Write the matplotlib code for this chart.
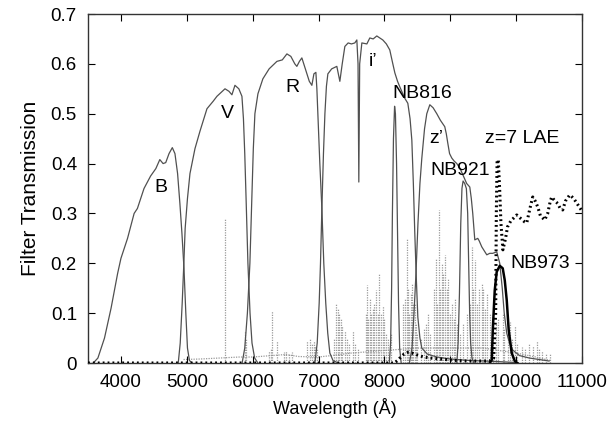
import matplotlib
matplotlib.use("Agg")
import matplotlib.pyplot as plt

plt.rcParams['font.family'] = ['Liberation Sans', 'DejaVu Sans']

# ---------------- data ----------------
B_wave = [3580, 3650, 3750, 3850, 3950, 4000, 4100, 4200, 4250, 4350, 4450, 4530, 4590, 4640,
          4680, 4730, 4780, 4820, 4860, 4895, 4926, 4957, 4985, 5010, 5040, 5080]
B_trans = [0, 0.01, 0.05, 0.11, 0.18, 0.21, 0.25, 0.30, 0.31, 0.35, 0.375, 0.39, 0.408, 0.40,
           0.402, 0.42, 0.432, 0.42, 0.38, 0.32, 0.26, 0.19, 0.10, 0.03, 0.005, 0]

V_wave = [4870, 4900, 4930, 4955, 4975, 5010, 5048, 5124, 5200, 5306, 5400, 5458, 5580, 5640,
          5685, 5731, 5790, 5837, 5860, 5880, 5900, 5928, 5960, 5990, 6030, 6080]
V_trans = [0, 0.04, 0.12, 0.20, 0.27, 0.33, 0.38, 0.43, 0.465, 0.51, 0.525, 0.535, 0.55, 0.545,
           0.538, 0.557, 0.55, 0.535, 0.49, 0.42, 0.33, 0.20, 0.10, 0.04, 0.01, 0]

R_wave = [5840, 5880, 5920, 5958, 5985, 6010, 6034, 6080, 6155, 6250, 6368, 6450, 6520, 6580,
          6640, 6671, 6710, 6747, 6800, 6860, 6899, 6930, 6960, 6975, 6990, 7020, 7051, 7080,
          7110, 7140, 7172, 7220, 7300]
R_trans = [0, 0.03, 0.10, 0.20, 0.32, 0.43, 0.50, 0.54, 0.57, 0.59, 0.605, 0.608, 0.62, 0.615,
           0.60, 0.595, 0.605, 0.612, 0.59, 0.565, 0.557, 0.58, 0.583, 0.55, 0.50, 0.40, 0.31,
           0.20, 0.12, 0.06, 0.02, 0.005, 0]

i_wave = [6945, 6980, 7010, 7030, 7051, 7075, 7097, 7120, 7142, 7200, 7278, 7324, 7360, 7400,
          7450, 7500, 7551, 7582, 7600, 7612, 7625, 7658, 7734, 7779, 7830, 7885, 7930, 7976,
          8030, 8082, 8120, 8159, 8200, 8234, 8310, 8356, 8390, 8417, 8440, 8462, 8485, 8508,
          8540, 8568, 8650, 8800, 9000, 9300, 9700, 10000]
i_trans = [0, 0.04, 0.12, 0.20, 0.31, 0.42, 0.50, 0.555, 0.58, 0.59, 0.595, 0.565, 0.60, 0.635,
           0.642, 0.64, 0.642, 0.648, 0.60, 0.363, 0.60, 0.642, 0.64, 0.652, 0.65, 0.656, 0.652,
           0.648, 0.64, 0.628, 0.605, 0.582, 0.565, 0.554, 0.531, 0.521, 0.49, 0.447, 0.36,
           0.26, 0.17, 0.092, 0.05, 0.03, 0.018, 0.012, 0.008, 0.005, 0.003, 0.001]

NB816_wave = [8075, 8095, 8110, 8122, 8138, 8155, 8168, 8185, 8200, 8215, 8232, 8255]
NB816_trans = [0, 0.04, 0.15, 0.30, 0.45, 0.515, 0.50, 0.40, 0.26, 0.12, 0.03, 0]

z_wave = [8380, 8420, 8450, 8480, 8510, 8540, 8568, 8610, 8644, 8690, 8740, 8796, 8850, 8917,
          8940, 8963, 8990, 9024, 9060, 9100, 9150, 9200, 9250, 9297, 9320, 9342, 9373, 9418,
          9440, 9479, 9555, 9600, 9646, 9706, 9752, 9790, 9820, 9858, 9900, 9949, 10050,
          10200, 10400, 10500]
z_trans = [0, 0.03, 0.10, 0.18, 0.28, 0.36, 0.41, 0.47, 0.50, 0.518, 0.512, 0.50, 0.487, 0.474,
           0.46, 0.441, 0.42, 0.411, 0.405, 0.40, 0.39, 0.375, 0.36, 0.353, 0.33, 0.30, 0.247,
           0.25, 0.245, 0.233, 0.217, 0.22, 0.22, 0.223, 0.20, 0.15, 0.10, 0.06, 0.04, 0.026,
           0.015, 0.01, 0.006, 0.004]

NB921_wave = [9100, 9120, 9140, 9160, 9178, 9195, 9220, 9245, 9265, 9280, 9295, 9310, 9330, 9360]
NB921_trans = [0, 0.04, 0.14, 0.28, 0.35, 0.365, 0.36, 0.35, 0.30, 0.20, 0.10, 0.04, 0.01, 0]

NB973_wave = [9600, 9630, 9646, 9676, 9706, 9752, 9797, 9828, 9858, 9888, 9934, 9980, 10020]
NB973_trans = [0, 0.006, 0.066, 0.146, 0.183, 0.195, 0.19, 0.166, 0.126, 0.066, 0.02, 0.004, 0]

LAE_wave = [3500, 8150, 8200, 8250, 8300, 8350, 8420, 8500, 8600, 8700, 8850, 9000, 9200, 9400,
            9600, 9660, 9690, 9700, 9712, 9730, 9750, 9770, 9800, 9840, 9870, 9920, 10010,
            10086, 10130, 10162, 10210, 10253, 10290, 10329, 10370, 10435, 10480, 10520, 10541,
            10590, 10632, 10670, 10708, 10750, 10814, 10850, 10890, 10950, 11000]
LAE_flux = [0, 0, 0.005, 0.012, 0.018, 0.021, 0.02, 0.016, 0.012, 0.01, 0.008, 0.006, 0.004,
            0.004, 0.004, 0.01, 0.10, 0.30, 0.407, 0.407, 0.35, 0.28, 0.227, 0.25, 0.273, 0.285,
            0.297, 0.288, 0.283, 0.281, 0.31, 0.333, 0.325, 0.313, 0.295, 0.287, 0.30, 0.325,
            0.333, 0.325, 0.32, 0.31, 0.307, 0.325, 0.337, 0.333, 0.327, 0.315, 0.305]

sky_cont_wave = [4950, 5200, 5500, 5800, 6000, 6200, 6500, 6700, 7000, 7200, 7500, 8000, 8500,
                 9000, 9500, 10000, 10300, 10520]
sky_cont_flux = [0.007, 0.008, 0.010, 0.012, 0.012, 0.014, 0.017, 0.013, 0.012, 0.015, 0.020,
                 0.025, 0.03, 0.03, 0.03, 0.02, 0.012, 0.005]

sky_line_wave = [5577, 5890, 5896, 6250, 6280, 6300, 6364, 6470, 6500, 6550, 6590, 6830, 6865,
                 6900, 6925, 6950, 6980, 7240, 7270, 7290, 7316, 7340, 7360, 7400, 7440, 7470,
                 7520, 7550, 7600, 7720, 7734, 7750, 7780, 7800, 7825, 7850, 7870, 7900, 7916,
                 7950, 7977, 8000, 8030, 8060, 8100, 8290, 8310, 8344, 8360, 8380, 8400, 8417,
                 8430, 8462, 8480, 8500, 8550, 8600, 8630, 8660, 8700, 8760, 8780, 8800, 8827,
                 8850, 8870, 8887, 8920, 8950, 8963, 8990, 9024, 9050, 9070, 9100, 9150, 9200,
                 9250, 9300, 9327, 9340, 9373, 9400, 9440, 9479, 9500, 9530, 9555, 9600, 9646,
                 9700, 9720, 9797, 9820, 9870, 9903, 9940, 9979, 10020, 10086, 10130, 10200,
                 10250, 10314, 10350, 10400, 10450, 10510]
sky_line_flux = [0.29, 0.065, 0.05, 0.025, 0.03, 0.105, 0.045, 0.022, 0.025, 0.02, 0.022, 0.045,
                 0.05, 0.04, 0.045, 0.035, 0.03, 0.05, 0.12, 0.11, 0.10, 0.09, 0.075, 0.065,
                 0.05, 0.04, 0.065, 0.04, 0.03, 0.10, 0.156, 0.09, 0.13, 0.10, 0.11, 0.12, 0.146,
                 0.10, 0.18, 0.10, 0.115, 0.09, 0.06, 0.05, 0.06, 0.12, 0.13, 0.25, 0.15, 0.10,
                 0.14, 0.16, 0.12, 0.12, 0.08, 0.06, 0.05, 0.07, 0.08, 0.10, 0.06, 0.15, 0.21,
                 0.12, 0.307, 0.15, 0.20, 0.18, 0.216, 0.15, 0.17, 0.10, 0.12, 0.09, 0.13, 0.08,
                 0.06, 0.08, 0.10, 0.12, 0.233, 0.15, 0.207, 0.12, 0.15, 0.16, 0.15, 0.11, 0.14,
                 0.10, 0.10, 0.08, 0.09, 0.10, 0.07, 0.06, 0.083, 0.05, 0.075, 0.04, 0.033, 0.03,
                 0.04, 0.035, 0.045, 0.03, 0.025, 0.02, 0.02]

x_ticks = [4000, 5000, 6000, 7000, 8000, 9000, 10000, 11000]
y_ticks = [0, 0.1, 0.2, 0.3, 0.4, 0.5, 0.6, 0.7]
y_ticklabels = ["0", "0.1", "0.2", "0.3", "0.4", "0.5", "0.6", "0.7"]

labels = ["B", "V", "R", "i\u2019", "NB816", "z\u2019", "z=7 LAE", "NB921", "NB973"]
label_x = [4600, 5610, 6610, 7830, 8570, 8790, 10090, 9150, 10370]
label_y = [0.352, 0.50, 0.552, 0.604, 0.541, 0.45, 0.451, 0.387, 0.20]

# ---------------- plot ----------------
fig = plt.figure(figsize=(6.1, 4.3), dpi=100)
ax = fig.add_axes([0.1443, 0.1558, 0.8097, 0.8116])

sky_col = "#9a9a9a"
ax.vlines(sky_line_wave, 0, sky_line_flux, colors=sky_col, linestyles=(0, (1, 1.0)),
          linewidth=0.9, zorder=1)
ax.plot(sky_cont_wave, sky_cont_flux, color=sky_col, lw=0.9, ls=(0, (1, 1.0)), zorder=1)

fc = "#505050"
flw = 0.9
for w, t in [(B_wave, B_trans), (V_wave, V_trans), (R_wave, R_trans), (i_wave, i_trans),
             (NB816_wave, NB816_trans), (z_wave, z_trans), (NB921_wave, NB921_trans)]:
    ax.plot(w, t, color=fc, lw=flw, zorder=2)

ax.plot(NB973_wave, NB973_trans, color="black", lw=1.8, zorder=3)
ax.plot(LAE_wave, LAE_flux, color="black", lw=2.2, ls=(0, (0.6, 1.0)), zorder=4)

for s, x, y in zip(labels, label_x, label_y):
    ax.text(x, y, s, fontsize=14, ha="center", va="center", zorder=5)

ax.set_xlim(3500, 11000)
ax.set_ylim(0, 0.7)
ax.set_xticks(x_ticks)
ax.set_yticks(y_ticks)
ax.set_yticklabels(y_ticklabels)
ax.tick_params(direction="in", top=True, right=True, length=5, width=0.8,
               labelsize=13.5, pad=8)
for sp in ax.spines.values():
    sp.set_linewidth(1.0)
    sp.set_color("#333333")
ax.set_xlabel("Wavelength (\u00c5)", fontsize=13, labelpad=5)
ax.set_ylabel("Filter Transmission", fontsize=15, labelpad=8)

fig.savefig("out.png", dpi=100)
